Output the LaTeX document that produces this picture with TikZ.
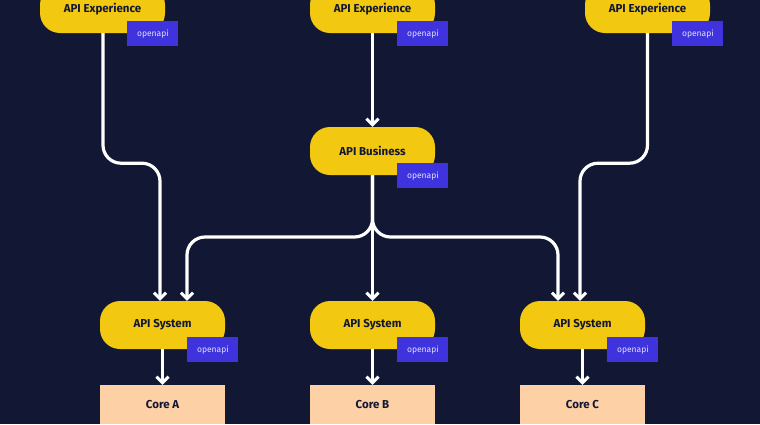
\documentclass[tikz,border=0pt]{standalone}
\usepackage{fontspec}
\setmainfont{Fira Sans}
\usetikzlibrary{arrows.meta,positioning}
\definecolor{navy}{HTML}{121833}
\definecolor{gold}{HTML}{F2C811}
\definecolor{violet}{HTML}{3F33DD}
\definecolor{peach}{HTML}{FDD0A6}
\tikzset{
  api/.style={rectangle,rounded corners=20pt,fill=gold,minimum height=48pt,
    minimum width=125pt,font=\bfseries\fontsize{11.5}{13}\selectfont,text=navy},
  core/.style={rectangle,fill=peach,minimum height=39pt,minimum width=125pt,
    font=\bfseries\fontsize{11.5}{13}\selectfont,text=navy},
  spec/.style={rectangle,fill=violet,minimum height=25pt,minimum width=51pt,
    inner sep=0pt,font=\fontsize{8.5}{10}\selectfont,text=white!85!violet},
  flow/.style={draw=white,line width=3.2pt,rounded corners=18pt,
    -{Straight Barb[length=6pt,width=12pt,line width=3pt]}}
}
\begin{document}
\begin{tikzpicture}[x=1pt,y=-1pt]
  \fill[navy] (0,0) rectangle (760,424);
  \useasboundingbox (0,0) rectangle (760,424);
  \node[api] (expA) at (102.5,9) {API Experience};
  \node[api] (expB) at (372.5,9) {API Experience};
  \node[api] (expC) at (647.5,9) {API Experience};
  \node[api] (bus) at (372.5,151) {API Business};
  \node[api] (sysA) at (162.5,325) {API System};
  \node[api] (sysB) at (372.5,325) {API System};
  \node[api] (sysC) at (582.5,325) {API System};
  \node[core] (coreA) at (162.5,404.5) {Core A};
  \node[core] (coreB) at (372.5,404.5) {Core B};
  \node[core] (coreC) at (582.5,404.5) {Core C};
  \foreach \n in {expA,expB,expC,bus,sysA,sysB,sysC}
    \node[spec,anchor=north west] (\n-spec) at ([xshift=-38pt,yshift=12pt]\n.south east) {openapi};
  % connectors
  \draw[flow] (expA.south) ++(0.5,0) -- ++(0,130) -| ([xshift=-2.5pt]sysA.north);
  \draw[flow] (expC.south) -- ++(0,130) -| ([xshift=-2.5pt]sysC.north);
  \draw[flow] (expB.south) -- (bus.north);
  \draw[flow] (bus.south) |- (280,237) -| ([xshift=24.5pt]sysA.north);
  \draw[flow] (bus.south) |- (460,237) -| ([xshift=-24.5pt]sysC.north);
  \draw[flow] (bus.south) -- (sysB.north);
  \foreach \n in {A,B,C}
    \draw[flow] (sys\n.south) -- (core\n.north);
\end{tikzpicture}
\end{document}
